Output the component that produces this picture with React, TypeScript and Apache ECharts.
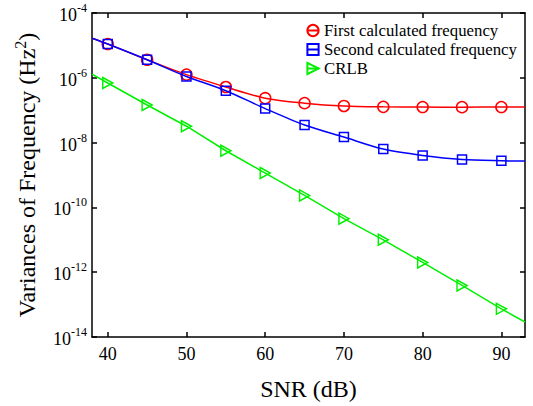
import React, { useEffect, useRef } from "react";
import * as echarts from "echarts";

const snr = [38, 40, 45, 50, 55, 60, 65, 70, 75, 80, 85, 90, 93];
const markerSnr = [40, 45, 50, 55, 60, 65, 70, 75, 80, 85, 90];
const firstFreq = [1.66e-5, 1.1e-5, 3.6e-6, 1.25e-6, 5.2e-7, 2.35e-7, 1.65e-7, 1.35e-7, 1.27e-7, 1.25e-7, 1.24e-7, 1.25e-7, 1.25e-7];
const secondFreq = [1.66e-5, 1.1e-5, 3.6e-6, 1.1e-6, 4.0e-7, 1.12e-7, 3.5e-8, 1.48e-8, 6.3e-9, 4.0e-9, 3.0e-9, 2.75e-9, 2.7e-9];
const crlb = [1.3e-6, 6.9e-7, 1.45e-7, 3.2e-8, 5.6e-9, 1.15e-9, 2.35e-10, 4.5e-11, 1.0e-11, 2.0e-12, 3.9e-13, 7.4e-14, 2.9e-14];
const seriesNames = ["First calculated frequency", "Second calculated frequency", "CRLB"];
const xTicks = [40, 50, 60, 70, 80, 90];

const FONT = "Liberation Serif";

function toData(vals: number[]) {
  return snr.map((x, i) => {
    const item: any = { value: [x, vals[i]] };
    if (!markerSnr.includes(x)) item.symbol = "none";
    return item;
  });
}

export default function App() {
  const ref = useRef<HTMLDivElement>(null);
  useEffect(() => {
    if (!ref.current) return;
    const chart = echarts.init(ref.current, null, { renderer: "svg" });
    const axisLine = { show: true, onZero: false, lineStyle: { color: "#000", width: 1.5 } };
    const tick = { show: true, inside: true, length: 5, lineStyle: { color: "#000", width: 1.5 } };
    const option: any = {
      animation: false,
      backgroundColor: "#fff",
      grid: { left: 92, right: 8, top: 13, bottom: 59, containLabel: false },
      legend: {
        orient: "vertical",
        left: 306,
        top: 22,
        itemWidth: 12,
        itemHeight: 14,
        itemGap: 2,
        padding: 0,
        textStyle: { fontFamily: FONT, fontSize: 16.8, color: "#000" },
        data: seriesNames,
      },
      xAxis: [
        {
          type: "value",
          min: 38,
          max: 93,
          name: "SNR (dB)",
          nameLocation: "middle",
          nameGap: 40,
          nameTextStyle: { fontFamily: FONT, fontSize: 24, color: "#000" },
          axisLine,
          axisTick: { ...tick, customValues: xTicks },
          axisLabel: { customValues: xTicks, fontFamily: FONT, fontSize: 18, color: "#000", margin: 8 },
          splitLine: { show: false },
        },
        {
          type: "value",
          position: "top",
          min: 38,
          max: 93,
          axisLine,
          axisTick: { ...tick, customValues: xTicks },
          axisLabel: { show: false },
          splitLine: { show: false },
        },
      ],
      yAxis: [
        {
          type: "log",
          logBase: 10,
          min: 1e-14,
          max: 1e-4,
          interval: 2,
          name: "{nm|Variances of Frequency (Hz}{sp|2}{nm|)}",
          nameLocation: "middle",
          nameGap: 53,
          nameRotate: 90,
          nameTextStyle: {
            fontFamily: FONT,
            fontSize: 24,
            color: "#000",
            rich: {
              nm: { fontFamily: FONT, fontSize: 24, color: "#000", verticalAlign: "bottom", lineHeight: 27 },
              sp: { fontFamily: FONT, fontSize: 16, color: "#000", verticalAlign: "top", lineHeight: 27 },
            },
          },
          axisLine,
          axisTick: tick,
          axisLabel: {
            margin: 5,
            fontFamily: FONT,
            fontSize: 18,
            color: "#000",
            formatter: (v: number) => `{base|10}{sup|${Math.round(Math.log10(v))}}`,
            rich: {
              base: { fontFamily: FONT, fontSize: 18, color: "#000", verticalAlign: "bottom", lineHeight: 22 },
              sup: { fontFamily: FONT, fontSize: 12, color: "#000", verticalAlign: "top", lineHeight: 22 },
            },
          },
          splitLine: { show: false },
        },
        {
          type: "log",
          logBase: 10,
          min: 1e-14,
          max: 1e-4,
          interval: 2,
          position: "right",
          axisLine,
          axisTick: tick,
          axisLabel: { show: false },
          splitLine: { show: false },
        },
      ],
      series: [
        {
          name: seriesNames[0],
          type: "line",
          smooth: 0.3,
          data: toData(firstFreq),
          symbol: "circle",
          symbolSize: 11,
          showAllSymbol: true,
          lineStyle: { color: "#ff0000", width: 1.5 },
          itemStyle: { color: "rgba(0,0,0,0)", borderColor: "#ff0000", borderWidth: 1.5 },
          z: 2,
        },
        {
          name: seriesNames[1],
          type: "line",
          smooth: 0.3,
          data: toData(secondFreq),
          symbol: "rect",
          symbolSize: 9,
          showAllSymbol: true,
          lineStyle: { color: "#0000ff", width: 1.5 },
          itemStyle: { color: "rgba(0,0,0,0)", borderColor: "#0000ff", borderWidth: 1.5 },
          z: 3,
        },
        {
          name: seriesNames[2],
          type: "line",
          data: toData(crlb),
          symbol: "path://M0,0L10,5L0,10Z",
          symbolSize: [10, 11],
          showAllSymbol: true,
          lineStyle: { color: "#00f000", width: 1.5 },
          itemStyle: { color: "rgba(0,0,0,0)", borderColor: "#00f000", borderWidth: 1.5 },
          z: 2,
        },
      ],
    };
    chart.setOption(option);
    return () => chart.dispose();
  }, []);
  return <div ref={ref} style={{ width: 533, height: 406, position: "absolute", left: 0, top: 0 }} />;
}
